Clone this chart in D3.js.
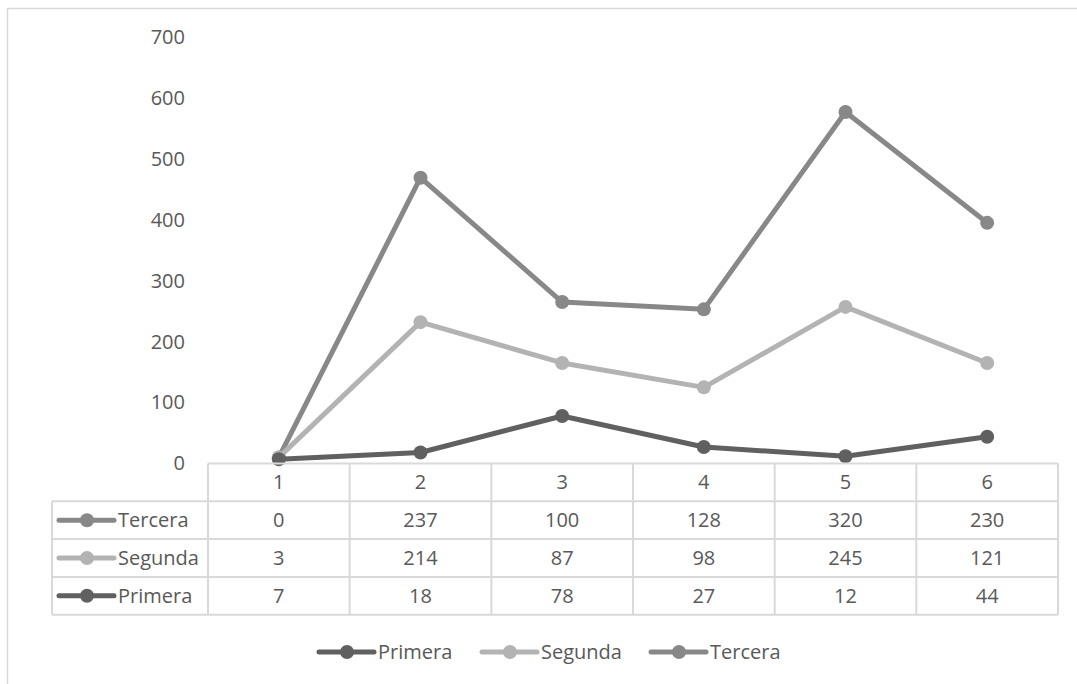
<!DOCTYPE html>
<html>
<head>
<meta charset="utf-8">
<script src="https://cdn.jsdelivr.net/npm/d3@7"></script>
<style>
  html, body { margin: 0; padding: 0; background: #fff; }
  svg { display: block; font-family: "Open Sans", "Noto Sans", sans-serif; }
</style>
</head>
<body>
<svg id="chart" width="1077" height="684"></svg>
<script>
// Categories along the x axis and per-series values (stacked lines)
const categories = ["1", "2", "3", "4", "5", "6"];
const primera = [7, 18, 78, 27, 12, 44];
const segunda = [3, 214, 87, 98, 245, 121];
const tercera = [0, 237, 100, 128, 320, 230];
const yTicks = [0, 100, 200, 300, 400, 500, 600, 700];

const seriesNames = ["Primera", "Segunda", "Tercera"];
const seriesValues = { Primera: primera, Segunda: segunda, Tercera: tercera };
const colors = { Primera: "#606060", Segunda: "#b3b3b3", Tercera: "#888888" };
const textColor = "#595959";
const gridColor = "#d9d9d9";
const fontSize = 20;

const svg = d3.select("#chart");

// Chart frame
svg.append("rect")
  .attr("x", 7.5).attr("y", 8.5)
  .attr("width", 1200).attr("height", 1000)
  .attr("fill", "none").attr("stroke", gridColor).attr("stroke-width", 1.5);

const plotLeft = 208, plotRight = 1058;
const plotTop = 37, plotBottom = 463.5;
const tableRowH = 37.8;
const legendColLeft = 52;

const x = d3.scaleBand().domain(categories).range([plotLeft, plotRight]);
const y = d3.scaleLinear().domain([0, 700]).range([plotBottom, plotTop]);

// Y axis labels (no axis line or gridlines)
const yAxis = d3.axisLeft(y).tickValues(yTicks).tickSize(0).tickPadding(0);
const yg = svg.append("g").attr("transform", `translate(${185},0)`).call(yAxis);
yg.select(".domain").remove();
yg.selectAll("text")
  .attr("fill", textColor)
  .style("font-size", fontSize + "px")
  .style("font-family", "'Open Sans', 'Noto Sans', sans-serif");

// Stack the series
const rows = categories.map((c, i) => {
  const o = { cat: c };
  seriesNames.forEach(s => o[s] = seriesValues[s][i]);
  return o;
});
const stacked = d3.stack().keys(seriesNames)(rows);

const cx = c => x(c) + x.bandwidth() / 2;
const line = d3.line().x(d => cx(d.data.cat)).y(d => y(d[1]));

// Draw top series first so lower series sit above it
const drawOrder = ["Tercera", "Segunda", "Primera"];
drawOrder.forEach(name => {
  const layer = stacked.find(s => s.key === name);
  const g = svg.append("g");
  g.append("path")
    .datum(layer)
    .attr("d", line)
    .attr("fill", "none")
    .attr("stroke", colors[name])
    .attr("stroke-width", 5)
    .attr("stroke-linejoin", "round")
    .attr("stroke-linecap", "round");
  g.selectAll("circle")
    .data(layer)
    .join("circle")
    .attr("cx", d => cx(d.data.cat))
    .attr("cy", d => y(d[1]))
    .attr("r", 7)
    .attr("fill", colors[name]);
});

// Data table below the plot
const table = svg.append("g");
const tableTop = plotBottom;
const tableRows = ["Tercera", "Segunda", "Primera"];
const tableBottom = tableTop + tableRowH * (tableRows.length + 1);

const lineAttrs = sel => sel.attr("stroke", gridColor).attr("stroke-width", 2).attr("fill", "none");

// Horizontal rules
table.append("line").call(lineAttrs)
  .attr("x1", plotLeft).attr("x2", plotRight).attr("y1", tableTop).attr("y2", tableTop);
d3.range(1, tableRows.length + 2).forEach(i => {
  const yy = tableTop + i * tableRowH;
  table.append("line").call(lineAttrs)
    .attr("x1", legendColLeft).attr("x2", plotRight).attr("y1", yy).attr("y2", yy);
});
// Vertical rules
table.append("line").call(lineAttrs)
  .attr("x1", legendColLeft).attr("x2", legendColLeft)
  .attr("y1", tableTop + tableRowH).attr("y2", tableBottom);
categories.forEach(c => {
  table.append("line").call(lineAttrs)
    .attr("x1", x(c)).attr("x2", x(c)).attr("y1", tableTop).attr("y2", tableBottom);
});
table.append("line").call(lineAttrs)
  .attr("x1", plotRight).attr("x2", plotRight).attr("y1", tableTop).attr("y2", tableBottom);

// Header (category) row
table.selectAll("text.cat")
  .data(categories)
  .join("text")
  .attr("class", "cat")
  .attr("x", d => cx(d))
  .attr("y", tableTop + tableRowH / 2)
  .attr("dy", "0.35em")
  .attr("text-anchor", "middle")
  .attr("fill", textColor)
  .style("font-size", fontSize + "px")
  .text(d => d);

// Key glyph: line with a dot in the middle
function keyGlyph(g, x0, yy, name) {
  g.append("line")
    .attr("x1", x0).attr("x2", x0 + 55).attr("y1", yy).attr("y2", yy)
    .attr("stroke", colors[name]).attr("stroke-width", 5).attr("stroke-linecap", "round");
  g.append("circle")
    .attr("cx", x0 + 28).attr("cy", yy).attr("r", 7).attr("fill", colors[name]);
}

tableRows.forEach((name, ri) => {
  const rowY = tableTop + (ri + 1) * tableRowH + tableRowH / 2;
  keyGlyph(table, 59, rowY, name);
  table.append("text")
    .attr("x", 118).attr("y", rowY).attr("dy", "0.35em")
    .attr("fill", textColor).style("font-size", fontSize + "px")
    .text(name);
  table.selectAll(null)
    .data(seriesValues[name])
    .join("text")
    .attr("x", (d, i) => cx(categories[i]))
    .attr("y", rowY).attr("dy", "0.35em")
    .attr("text-anchor", "middle")
    .attr("fill", textColor).style("font-size", fontSize + "px")
    .text(d => d);
});

// Bottom legend
const legend = svg.append("g");
const legendY = 652;
const legendX = { Primera: 319, Segunda: 482, Tercera: 651 };
seriesNames.forEach(name => {
  keyGlyph(legend, legendX[name], legendY, name);
  legend.append("text")
    .attr("x", legendX[name] + 59).attr("y", legendY).attr("dy", "0.35em")
    .attr("fill", textColor).style("font-size", fontSize + "px")
    .text(name);
});
</script>
</body>
</html>
